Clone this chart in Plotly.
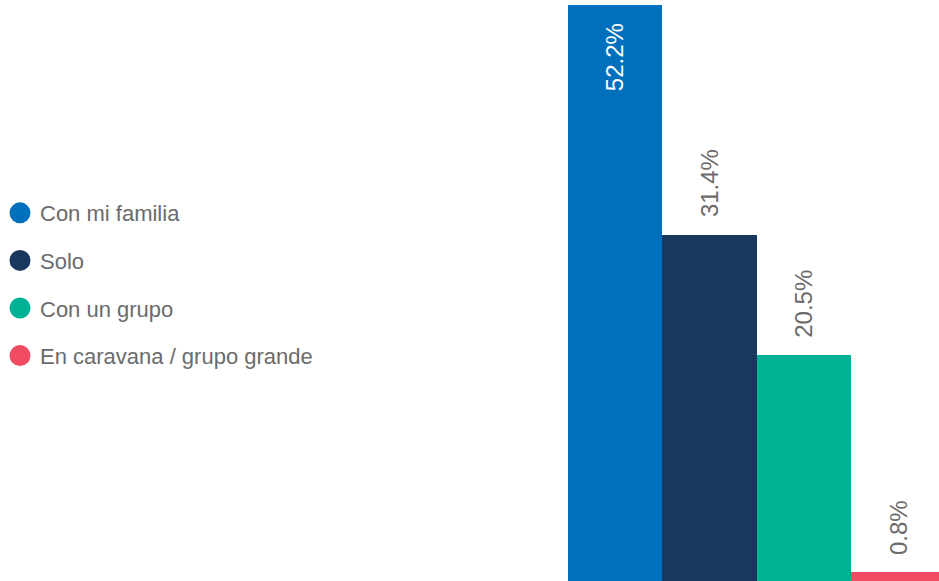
import plotly.graph_objects as go

categories = ["Con mi familia", "Solo", "Con un grupo", "En caravana / grupo grande"]
values = [52.2, 31.4, 20.5, 0.8]
labels = ["52.2%", "31.4%", "20.5%", "0.8%"]
colors = ["#0070BD", "#1A375E", "#00B294", "#EF4B62"]

W, H = 939, 581
ML = 568
TEXT_GRAY = "#6B6B6B"
FONT = "Liberation Sans, Arial, sans-serif"

fig = go.Figure()

fig.add_trace(go.Bar(
    x=categories, y=values,
    marker=dict(color=colors, line=dict(width=0)),
    showlegend=False, hoverinfo="skip",
))

for i, (c, col) in enumerate(zip(categories, colors)):
    fig.add_trace(go.Scatter(
        x=[None], y=[None], mode="markers", name=c,
        legendgroup="g%d" % i,
        marker=dict(symbol="circle", size=16, color=col, line=dict(color=col, width=5)),
        showlegend=True,
    ))

ymax = max(values)
for c, v, t in zip(categories, values, labels):
    inside = v > 0.8 * ymax
    fig.add_annotation(
        x=c, y=v, text=t, textangle=-90, showarrow=False,
        xanchor="center",
        yanchor="top" if inside else "bottom",
        yshift=-16 if inside else 15,
        font=dict(family=FONT, size=24, color="white" if inside else TEXT_GRAY),
    )

fig.update_layout(
    width=W, height=H,
    margin=dict(l=ML, r=0, t=0, b=0),
    paper_bgcolor="white", plot_bgcolor="white",
    bargap=0,
    xaxis=dict(visible=False, range=[-0.5, 3.43]),
    yaxis=dict(visible=False, range=[0, 52.65]),
    showlegend=True,
    legend=dict(
        xref="container", yref="container",
        x=0.0, xanchor="left", y=1 - 284.5 / H, yanchor="middle",
        font=dict(family=FONT, size=22, color=TEXT_GRAY),
        tracegroupgap=16, itemsizing="trace",
        bgcolor="rgba(0,0,0,0)",
    ),
    font=dict(family=FONT),
)

fig.write_html(
    "out.html",
    config={"displayModeBar": False},
    post_script="document.body.style.margin='0px';document.body.style.overflow='hidden';",
)
